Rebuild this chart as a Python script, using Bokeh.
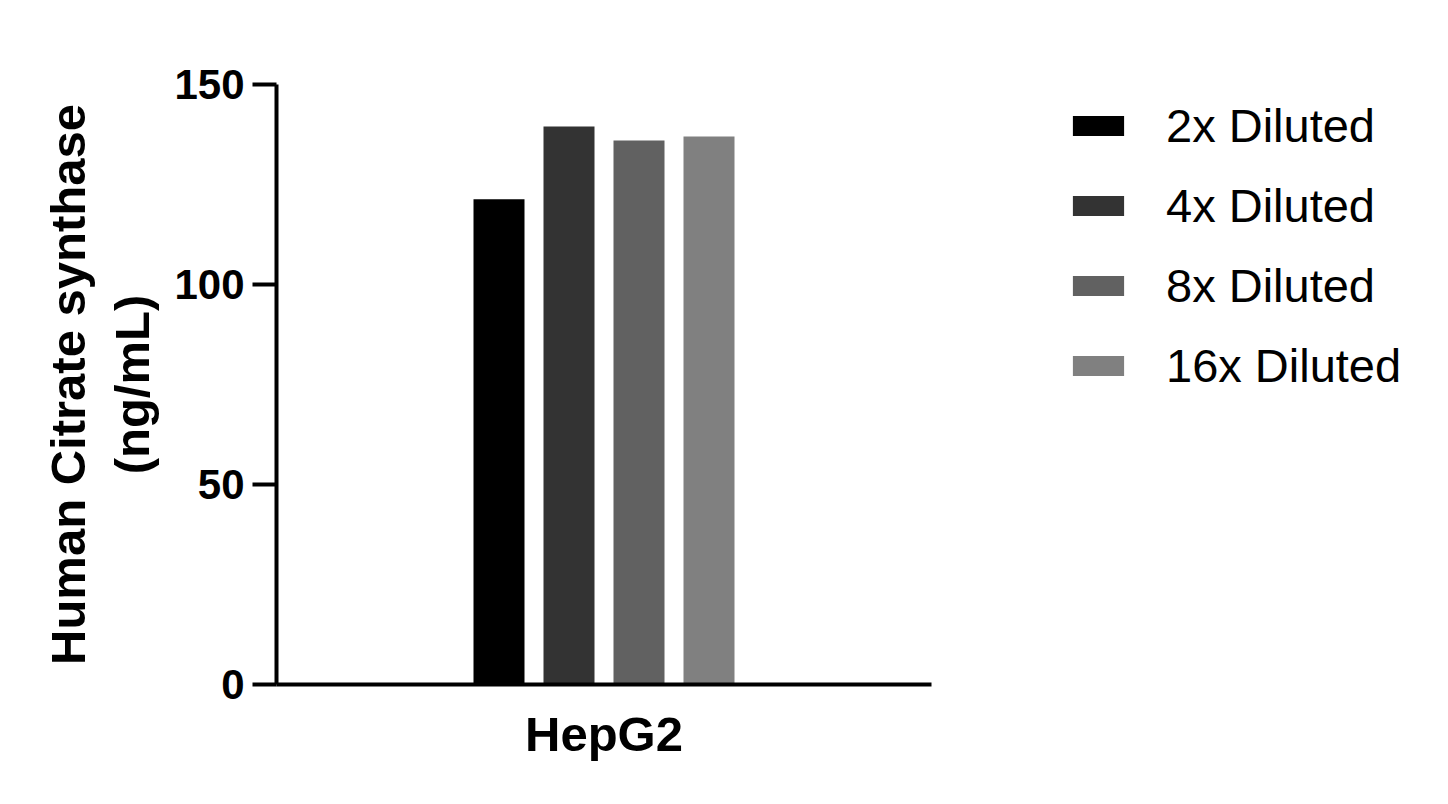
from bokeh.plotting import figure
from bokeh.models import ColumnDataSource, FactorRange, Range1d, FixedTicker, Legend, LegendItem
from bokeh.transform import dodge
from bokeh.embed import file_html
from bokeh.resources import INLINE

categories = ["HepG2"]
series = ["2x Diluted", "4x Diluted", "8x Diluted", "16x Diluted"]
values = [121.3, 139.5, 136.0, 137.0]
colors = ["#000000", "#333333", "#616161", "#808080"]
y_ticks = [0, 50, 100, 150]

FONT = "Liberation Sans"

data = {"cat": categories}
for s, v in zip(series, values):
    data[s] = [v]
src = ColumnDataSource(data)

p = figure(x_range=FactorRange(*categories), y_range=Range1d(0, 150),
           frame_width=655, frame_height=600,
           width=1432, height=788,
           min_border_left=276, min_border_top=84, min_border_right=501, min_border_bottom=104,
           output_backend="svg", toolbar_location=None)
p.x_range.range_padding = 0

step = 70 / 655
bw = 51 / 655
renderers = []
for i, (s, c) in enumerate(zip(series, colors)):
    r = p.vbar(x=dodge("cat", (i - 1.5) * step, range=p.x_range), top=s, width=bw,
               source=src, fill_color=c, line_color=None)
    renderers.append(r)

legend = Legend(items=[LegendItem(label=s, renderers=[r]) for s, r in zip(series, renderers)],
                location=(135, 289))
legend.glyph_width = 64
legend.glyph_height = 25
legend.label_height = 60
legend.spacing = 20
legend.padding = 0
legend.margin = 0
legend.label_standoff = 36
legend.label_text_font = FONT
legend.label_text_font_size = "47px"
legend.label_text_color = "#000000"
legend.border_line_color = None
legend.background_fill_alpha = 0
p.add_layout(legend, "right")

p.xgrid.visible = False
p.ygrid.visible = False
p.outline_line_color = None

p.yaxis.ticker = FixedTicker(ticks=y_ticks)
p.yaxis.minor_tick_line_color = None
p.yaxis.major_tick_out = 24
p.yaxis.major_tick_in = 0
p.yaxis.major_tick_line_width = 4
p.yaxis.axis_line_width = 4
p.yaxis.major_label_standoff = 8
p.yaxis.major_label_text_font = FONT
p.yaxis.major_label_text_font_style = "bold"
p.yaxis.major_label_text_font_size = "42px"
p.yaxis.axis_label = "Human Citrate synthase\n(ng/mL)"
p.yaxis.axis_label_text_font = FONT
p.yaxis.axis_label_text_font_style = "bold"
p.yaxis.axis_label_text_font_size = "49px"
p.yaxis.axis_label_standoff = 12

p.xaxis.axis_line_width = 4
p.xaxis.major_tick_out = 0
p.xaxis.major_tick_in = 0
p.xaxis.minor_tick_line_color = None
p.xaxis.major_label_standoff = 22
p.xaxis.major_label_text_font = FONT
p.xaxis.major_label_text_font_style = "bold"
p.xaxis.major_label_text_font_size = "49px"

for ax in [p.xaxis[0], p.yaxis[0]]:
    ax.axis_line_color = "#000000"
    ax.major_tick_line_color = "#000000"
    ax.major_label_text_color = "#000000"
    ax.axis_label_text_color = "#000000"

open("out.html", "w").write(file_html(p, INLINE))
